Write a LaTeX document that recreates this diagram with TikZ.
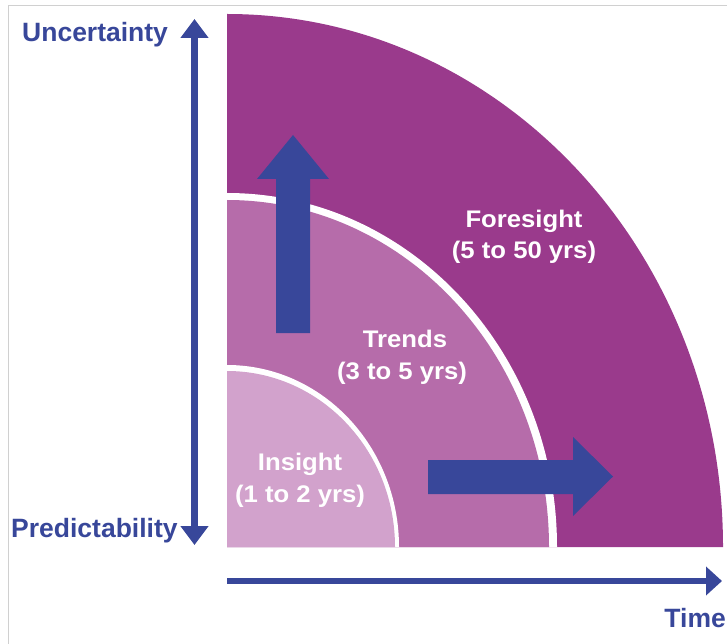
\documentclass[tikz,border=0pt]{standalone}
\usepackage{fontspec}
\setmainfont{Liberation Sans}
\newfontfamily\labfont{Liberation Sans}[FakeStretch=1.07]
\usetikzlibrary{arrows.meta}
\definecolor{darkp}{HTML}{9A3A8C}
\definecolor{midp}{HTML}{B66CAA}
\definecolor{lightp}{HTML}{D2A2CC}
\definecolor{arrowblue}{HTML}{38479A}
\definecolor{framegray}{HTML}{D0D0D0}
\tikzset{
  axislabel/.style={text=arrowblue, font=\fontsize{26.5}{30}\selectfont\bfseries, inner sep=0pt},
  zonelabel/.style={text=white, font=\labfont\fontsize{24}{31}\selectfont\bfseries, inner sep=0pt, anchor=base},
  axisarrow/.style={draw=arrowblue, line width=6.5pt},
  bigarrow/.style={fill=arrowblue},
}
\begin{document}
\begin{tikzpicture}[x=1pt,y=-1pt]
\useasboundingbox (0,0) rectangle (727,644);
% frame
\draw[framegray, line width=1.2pt] (8.5,644) -- (8.5,5.5) -- (727,5.5);
% zones
\coordinate (O) at (227,547);
\fill[darkp] (O) -- ++(496,0) arc[start angle=0,end angle=-90,x radius=496,y radius=533] -- cycle;
\fill[white] (O) -- ++(330,0) arc[start angle=0,end angle=-90,x radius=330,y radius=354] -- cycle;
\fill[midp] (O) -- ++(322,0) arc[start angle=0,end angle=-90,x radius=322,y radius=347] -- cycle;
\fill[white] (O) -- ++(172,0) arc[start angle=0,end angle=-90,x radius=172,y radius=182] -- cycle;
\fill[lightp] (O) -- ++(168,0) arc[start angle=0,end angle=-90,x radius=168,y radius=176] -- cycle;
% big arrows
\fill[bigarrow] (276,333) -- (276,179) -- (257,179) -- (293,135) -- (329,179) -- (310,179) -- (310,333) -- cycle;
\fill[bigarrow] (428,460) -- (573,460) -- (573,437) -- (613,476.5) -- (573,516) -- (573,494) -- (428,494) -- cycle;
% axes
\coordinate (vtop) at (194.5,19);
\coordinate (vbot) at (194.5,545);
\coordinate (hstart) at (227,581);
\coordinate (hend) at (722,581);
\draw[axisarrow, {Triangle[width=27pt,length=19pt]}-{Triangle[width=27pt,length=19pt]}] (vbot) -- (vtop);
\draw[axisarrow, -{Triangle[width=28pt,length=16pt]}] (hstart) -- (hend);
% axis labels
\node[axislabel, anchor=base west] (unc) at (22,42) {Uncertainty};
\node[axislabel, anchor=base west] (pred) at (11,537) {Predictability};
\node[axislabel, anchor=base east] (time) at (726,627) {Time};
% zone labels
\node[zonelabel] (fore1) at (524,227) {Foresight};
\node[zonelabel] (fore2) at (524,258) {(5 to 50 yrs)};
\node[zonelabel] (trend1) at (405,347) {Trends};
\node[zonelabel] (trend2) at (402,379) {(3 to 5 yrs)};
\node[zonelabel] (ins1) at (300,470) {Insight};
\node[zonelabel] (ins2) at (300,502) {(1 to 2 yrs)};
\end{tikzpicture}
\end{document}
